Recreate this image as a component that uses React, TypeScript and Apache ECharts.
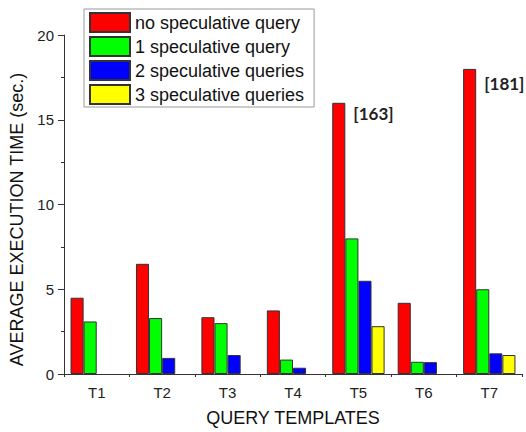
import React, { useEffect, useRef } from 'react';
import * as echarts from 'echarts';

const categories = ['T1', 'T2', 'T3', 'T4', 'T5', 'T6', 'T7'];
const seriesNames = [
  'no speculative query',
  '1 speculative query',
  '2 speculative queries',
  '3 speculative queries',
];
const noSpeculative = [4.5, 6.5, 3.35, 3.75, 16, 4.2, 18];
const oneSpeculative = [3.1, 3.3, 3.0, 0.85, 8.0, 0.72, 5.0];
const twoSpeculative = [null, 0.95, 1.12, 0.37, 5.5, 0.7, 1.22];
const threeSpeculative = [null, null, null, null, 2.82, null, 1.12];
const annotationCategories = ['T5', 'T7'];
const annotationTexts = ['[163]', '[181]'];

const colors = ['#ff0000', '#00ff00', '#0000ff', '#ffff00'];
const annotationDy = [11, 15];

export default function App() {
  const ref = useRef<HTMLDivElement>(null);
  useEffect(() => {
    if (!ref.current) return;
    const chart = echarts.init(ref.current, null, { renderer: 'svg' });
    const font = 'Liberation Sans, Arial, sans-serif';
    const redData = noSpeculative.map((v, i) => {
      const k = annotationCategories.indexOf(categories[i]);
      if (k < 0) return v;
      return {
        value: v,
        label: {
          show: true,
          formatter: annotationTexts[k],
          position: ['100%', 0],
          align: 'left',
          verticalAlign: 'middle',
          offset: [8, annotationDy[k]],
          fontFamily: 'Lato, Open Sans, sans-serif',
          fontWeight: 'bold',
          fontSize: 17,
          color: '#222',
        },
      };
    });
    const allData = [redData, oneSpeculative, twoSpeculative, threeSpeculative];
    chart.setOption({
      animation: false,
      backgroundColor: '#fff',
      textStyle: { fontFamily: font },
      grid: { left: 64, right: 4, top: 35, bottom: 57 },
      legend: {
        orient: 'vertical',
        left: 84,
        top: 9,
        itemWidth: 40,
        itemHeight: 19,
        itemGap: 3,
        padding: [3, 10, 2, 5],
        borderColor: '#999',
        borderWidth: 1,
        backgroundColor: '#fff',
        icon: 'rect',
        data: seriesNames,
        textStyle: { fontSize: 18, fontFamily: font, color: '#111', lineHeight: 19 },
      },
      xAxis: [
        {
          type: 'category',
          data: categories,
          position: 'bottom',
          name: 'QUERY TEMPLATES',
          nameLocation: 'middle',
          nameGap: 35,
          nameTextStyle: { fontSize: 18, fontFamily: font, color: '#111' },
          axisLine: { lineStyle: { color: '#333', width: 1 } },
          axisTick: { alignWithLabel: true, length: 6, lineStyle: { color: '#333' } },
          axisLabel: { fontSize: 15, fontFamily: font, color: '#222', margin: 11 },
        },
        {
          type: 'category',
          data: categories,
          position: 'bottom',
          axisLine: { show: false },
          axisTick: { show: true, length: 3, lineStyle: { color: '#333' } },
          axisLabel: { show: false },
        },
      ],
      yAxis: {
        type: 'value',
        min: 0,
        max: 20,
        interval: 5,
        name: 'AVERAGE EXECUTION TIME (sec.)',
        nameLocation: 'middle',
        nameGap: 33,
        nameTextStyle: {
          fontSize: 18,
          fontFamily: font,
          color: '#111',
          padding: [0, 30, 0, 0],
        },
        axisLine: { show: true, lineStyle: { color: '#333', width: 1 } },
        axisTick: { show: true, length: 6, lineStyle: { color: '#333' } },
        minorTick: { show: true, splitNumber: 2, length: 3, lineStyle: { color: '#333' } },
        splitLine: { show: false },
        axisLabel: { fontSize: 15, fontFamily: font, color: '#222', margin: 10 },
      },
      series: seriesNames.map((name, i) => ({
        name,
        type: 'bar',
        xAxisIndex: 0,
        data: allData[i],
        barGap: 0,
        barCategoryGap: '20%',
        itemStyle: { color: colors[i], borderColor: '#333', borderWidth: 1 },
      })),
    });
    return () => chart.dispose();
  }, []);
  return (
    <div
      ref={ref}
      style={{ position: 'absolute', left: 0, top: 0, width: 526, height: 432 }}
    />
  );
}
